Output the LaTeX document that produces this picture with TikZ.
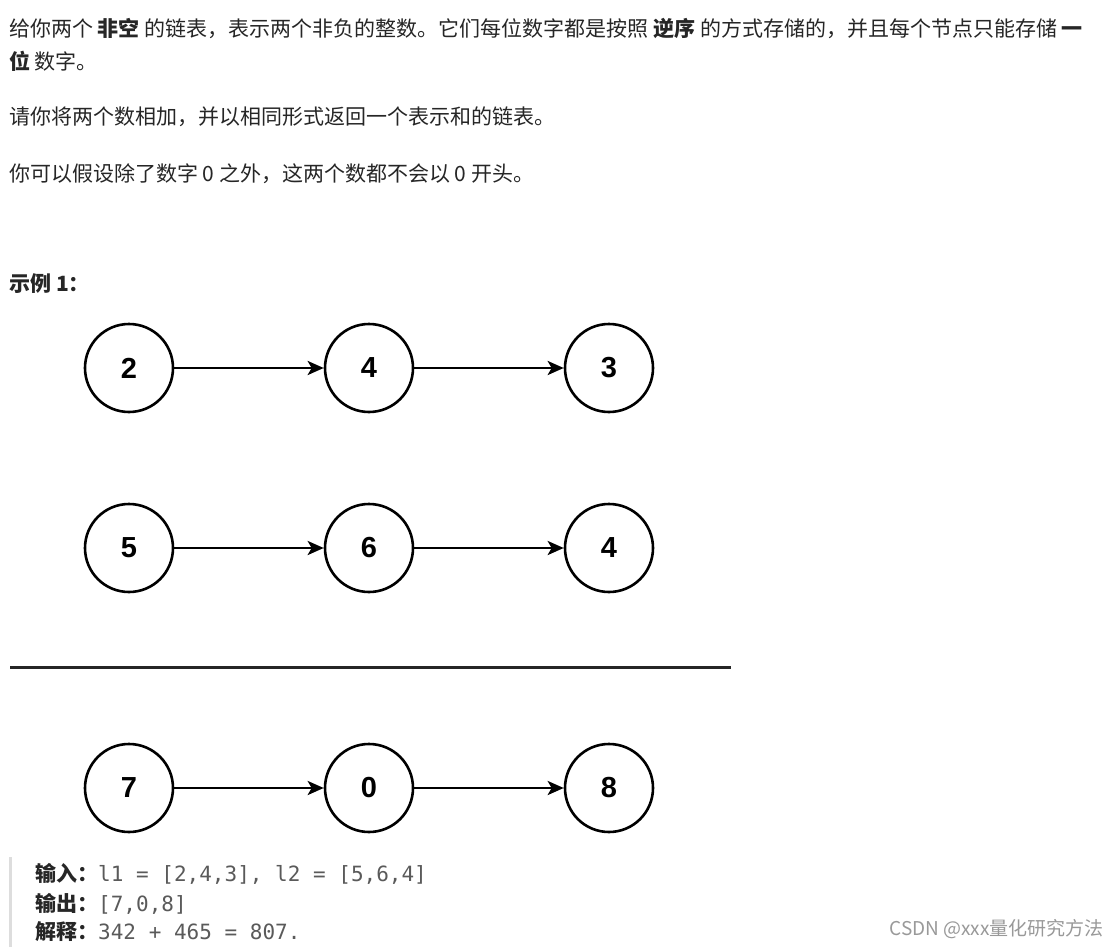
\documentclass[tikz,border=0pt]{standalone}
\usepackage{fontspec}
\setmainfont{Noto Sans CJK SC}
\newfontfamily\cjk{Noto Sans CJK SC}
\newfontfamily\digitfont{Liberation Sans}
\newfontfamily\monofont{DejaVu Sans Mono}
\usetikzlibrary{arrows.meta}
\definecolor{bodytext}{HTML}{262626}
\definecolor{codetext}{HTML}{5A5A5A}
\definecolor{barcol}{HTML}{DDDDDD}
\definecolor{wmcol}{HTML}{999999}
\begin{document}
\begin{tikzpicture}[x=1pt,y=-1pt,
  listnode/.style={circle,draw=black,line width=2.6pt,minimum size=88pt,inner sep=0pt,
    font=\digitfont\bfseries\fontsize{29}{29}\selectfont},
  link/.style={line width=2.8pt,-{Stealth[length=16pt,width=14pt,inset=4pt]}},
  para/.style={anchor=base west,inner sep=0pt,text=bodytext,font=\cjk\fontsize{21}{21}\selectfont},
  code/.style={anchor=base west,inner sep=0pt,text=codetext,font=\monofont\fontsize{21}{21}\selectfont}]
\useasboundingbox (0,0) rectangle (1119,947);
\fill[white] (0,0) rectangle (1119,947);
% paragraph text
\node[para] (t1) at (9,37) {给你两个 \textbf{非空} 的链表，表示两个非负的整数。它们每位数字都是按照 \textbf{逆序} 的方式存储的，并且每个节点只能存储 \textbf{一}};
\node[para] (t2) at (9,70) {\textbf{位} 数字。};
\node[para] (t3) at (9,125) {请你将两个数相加，并以相同形式返回一个表示和的链表。};
\node[para] (t4) at (9,181) {你可以假设除了数字 0 之外，这两个数都不会以 0 开头。};
\node[para] (ex) at (9,291) {\textbf{示例 1：}};
% lists
\node[listnode] (a1) at (129,368) {2};
\node[listnode] (a2) at (369,368) {4};
\node[listnode] (a3) at (609,368) {3};
\node[listnode] (b1) at (129,548) {5};
\node[listnode] (b2) at (369,548) {6};
\node[listnode] (b3) at (609,548) {4};
\node[listnode] (c1) at (129,788) {7};
\node[listnode] (c2) at (369,788) {0};
\node[listnode] (c3) at (609,788) {8};
\foreach \r in {a,b,c}{
  \draw[link] (\r1) -- (\r2);
  \draw[link] (\r2) -- (\r3);
}
\coordinate (l0) at (10,667);
\coordinate (l1) at (731,667);
\draw[line width=3pt,black!85] (l0) -- (l1);
% code block
\coordinate (bar0) at (10,857);
\coordinate (bar1) at (10,947);
\draw[barcol,line width=3pt] (bar0) -- (bar1);
\node[code] (c1t) at (35,881) {{\cjk\bfseries\color{bodytext}输入：}l1 = [2,4,3], l2 = [5,6,4]};
\node[code] (c2t) at (35,911) {{\cjk\bfseries\color{bodytext}输出：}[7,0,8]};
\node[code] (c3t) at (35,939) {{\cjk\bfseries\color{bodytext}解释：}342 + 465 = 807.};
% watermark
\node[anchor=base east,inner sep=0pt,text=wmcol,font=\cjk\fontsize{19}{19}\selectfont] (wm) at (1104,935) {CSDN @xxx量化研究方法};
\end{tikzpicture}
\end{document}
